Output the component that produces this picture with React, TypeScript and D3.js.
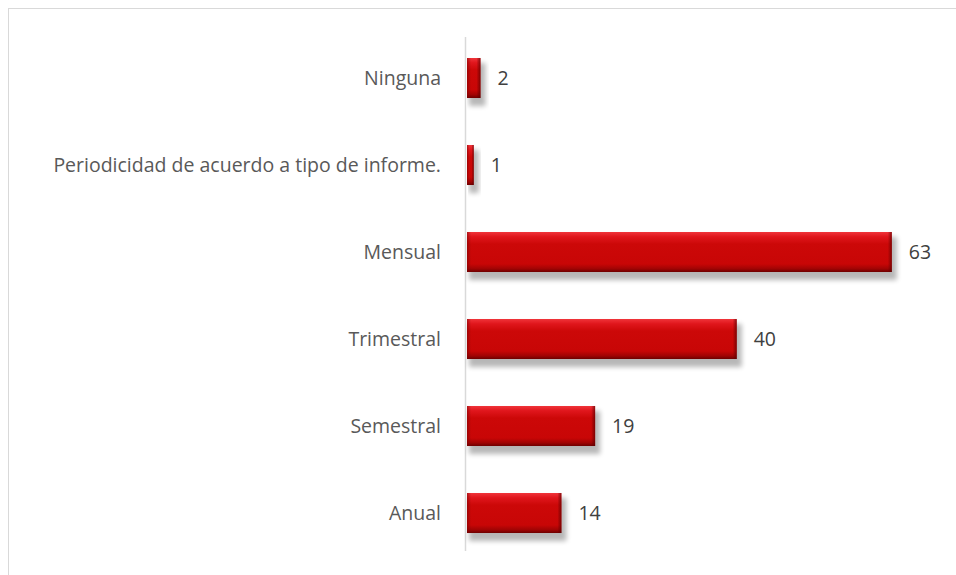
import React from "react";
import * as d3 from "d3";

const categories = [
  "Ninguna",
  "Periodicidad de acuerdo a tipo de informe.",
  "Mensual",
  "Trimestral",
  "Semestral",
  "Anual",
];
const values = [2, 1, 63, 40, 19, 14];
const xMax = 70;

const W = 956;
const H = 575;
const FONT = "'Open Sans', 'Liberation Sans', sans-serif";

export default function App() {
  const x = d3.scaleLinear().domain([0, xMax]).range([467, 467 + 472]);
  const y = d3
    .scaleBand<string>()
    .domain(categories)
    .range([34.5, 556.5])
    .paddingInner(0.54)
    .paddingOuter(0.27);
  const bw = y.bandwidth();

  return (
    <svg
      width={W}
      height={H}
      style={{ position: "absolute", left: 0, top: 0, background: "#fff" }}
    >
      <defs>
        <linearGradient id="barGrad" x1="0" y1="0" x2="0" y2="1">
          <stop offset="0" stopColor="#f0343a" />
          <stop offset="0.12" stopColor="#e0161c" />
          <stop offset="0.3" stopColor="#cc0808" />
          <stop offset="0.8" stopColor="#c80606" />
          <stop offset="0.92" stopColor="#a00404" />
          <stop offset="1" stopColor="#6e0000" />
        </linearGradient>
        <linearGradient id="sideL" x1="0" y1="0" x2="1" y2="0">
          <stop offset="0" stopColor="#7a0000" stopOpacity="0.55" />
          <stop offset="1" stopColor="#7a0000" stopOpacity="0" />
        </linearGradient>
        <linearGradient id="sideR" x1="1" y1="0" x2="0" y2="0">
          <stop offset="0" stopColor="#5a0000" stopOpacity="0.7" />
          <stop offset="1" stopColor="#5a0000" stopOpacity="0" />
        </linearGradient>
        <filter id="shadow" x="-10%" y="-30%" width="130%" height="180%">
          <feGaussianBlur stdDeviation="2.5" />
        </filter>
      </defs>
      <rect x={8.5} y={8.5} width={W} height={H} fill="none" stroke="#d9d9d9" strokeWidth={1} />
      <line x1={465.5} x2={465.5} y1={37} y2={551} stroke="#d9d9d9" strokeWidth={1.5} />
      {categories.map((c, i) => {
        const y0 = y(c)!;
        const x0 = x(0);
        const w = x(values[i]) - x0;
        const bev = Math.min(4, w / 3);
        return (
          <g key={c}>
            <rect
              x={x0 + 2}
              y={y0 + 5}
              width={w + 3}
              height={bw + 3}
              fill="#000"
              opacity={0.28}
              filter="url(#shadow)"
            />
            <rect x={x0} y={y0} width={w} height={bw} fill="url(#barGrad)" />
            <rect x={x0} y={y0} width={bev} height={bw} fill="url(#sideL)" />
            <rect x={x0 + w - bev} y={y0} width={bev} height={bw} fill="url(#sideR)" />
            <text
              x={x0 - 26}
              y={y0 + bw / 2}
              dy="0.35em"
              textAnchor="end"
              fontFamily={FONT}
              fontSize={19.5}
              fill="#595959"
            >
              {c}
            </text>
            <text
              x={x0 + w + 17}
              y={y0 + bw / 2}
              dy="0.35em"
              fontFamily={FONT}
              fontSize={19.5}
              fill="#404040"
            >
              {values[i]}
            </text>
          </g>
        );
      })}
    </svg>
  );
}
